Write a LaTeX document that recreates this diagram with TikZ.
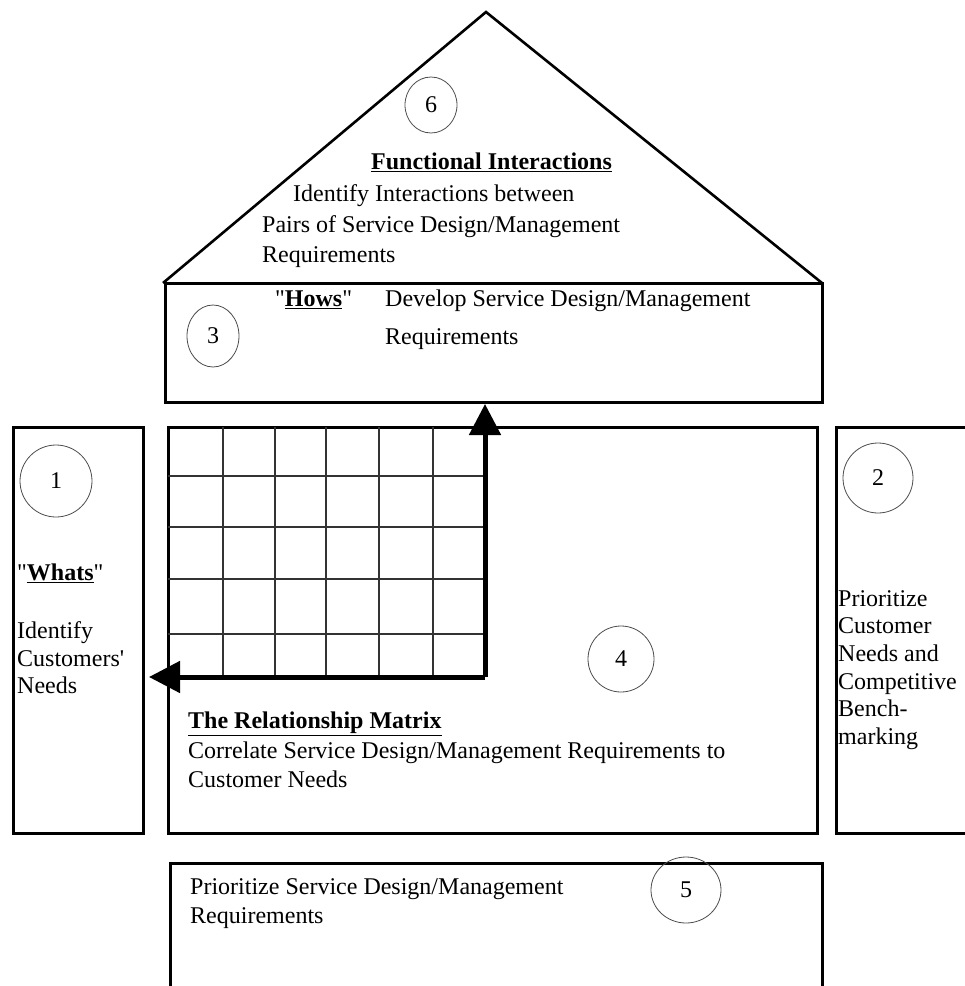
\documentclass[tikz,border=0pt]{standalone}
\usepackage{fontspec}
\setmainfont{Liberation Serif}
% same face without the TeX quote mapping, for straight quote marks
\newfontfamily\plainquote{Liberation Serif}
\usetikzlibrary{arrows.meta,shapes.geometric}
\newcommand{\dq}{{\plainquote"}}
\newcommand{\sq}{{\plainquote'}}
\begin{document}
\begin{tikzpicture}[x=1pt,y=-1pt,
  frame/.style={draw=black,line width=3pt},
  roof/.style={draw=black,line width=2.6pt,line join=miter},
  numring/.style={ellipse,draw=black!70,line width=0.8pt,inner sep=0pt,
    font=\fontsize{24}{28}\selectfont},
  txt/.style={anchor=west,inner sep=0pt,text height=16pt,text depth=5pt,
    font=\fontsize{24}{28}\selectfont},
  boldtxt/.style={txt,font=\fontsize{24}{28}\selectfont\bfseries},
  gridline/.style={draw=black!80,line width=1.3pt},
  bigarrow/.style={line width=5pt,-{Triangle[length=31pt,width=31pt]}}
]
\useasboundingbox (0,0) rectangle (965,986);

% roof: functional interactions
\draw[roof] (163,283) -- (486,12) -- (822,283);
\node[numring,minimum width=52pt,minimum height=56pt] (n6) at (431,105) {6};
\node[boldtxt] (fi) at (371,164) {\underline{Functional Interactions}};
\node[txt] (fi1) at (293,196) {Identify Interactions between};
\node[txt] (fi2) at (262,227) {Pairs of Service Design/Management};
\node[txt] (fi3) at (262,257) {Requirements};

% "Hows" box
\draw[frame] (165,283) rectangle (822,402);
\node[numring,minimum width=52pt,minimum height=62pt] (n3) at (213,336) {3};
\node[txt] (hw) at (275,301) {\dq\textbf{\underline{Hows}}\dq};
\node[txt] (hw1) at (385,301) {Develop Service Design/Management};
\node[txt] (hw2) at (385,339) {Requirements};

% "Whats" column
\draw[frame] (13,427) rectangle (143,833);
\node[numring,minimum width=72pt,minimum height=72pt] (n1) at (56,481) {1};
\node[txt] (wh) at (17,575) {\dq\textbf{\underline{Whats}}\dq};
\node[txt] (wh1) at (17,633) {Identify};
\node[txt] (wh2) at (17,661) {Customers\sq};
\node[txt] (wh3) at (17,688) {Needs};

% relationship matrix
\draw[frame] (168,427) rectangle (817,833);
\foreach \x in {223,275,326,379,433}
  \draw[gridline] (\x,427) -- (\x,677);
\foreach \y in {476,527,579,634}
  \draw[gridline] (168,\y) -- (485,\y);
\coordinate (corner) at (485,677);
\coordinate (uptip) at (485,404);
\coordinate (lefttip) at (149,677);
\draw[bigarrow] (corner) -- (uptip);
\draw[bigarrow] (corner) -- (lefttip);
\node[numring,minimum width=66pt,minimum height=66pt] (n4) at (621,659) {4};
\node[boldtxt] (rm) at (188,723) {\underline{The Relationship Matrix}};
\node[txt] (rm1) at (188,753) {Correlate Service Design/Management Requirements to};
\node[txt] (rm2) at (188,782) {Customer Needs};

% competitive benchmarking column
\draw[frame] (836,427) rectangle (990,833);
\node[numring,minimum width=70pt,minimum height=70pt] (n2) at (878,478) {2};
\node[txt] (cb1) at (838,601) {Prioritize};
\node[txt] (cb2) at (838,628) {Customer};
\node[txt] (cb3) at (838,656) {Needs and};
\node[txt] (cb4) at (838,684) {Competitive};
\node[txt] (cb5) at (838,711) {Bench-};
\node[txt] (cb6) at (838,739) {marking};

% prioritized requirements
\draw[frame] (170,1000) -- (170,863) -- (822,863) -- (822,1000);
\node[numring,minimum width=70pt,minimum height=66pt] (n5) at (686,890) {5};
\node[txt] (pr1) at (190,889) {Prioritize Service Design/Management};
\node[txt] (pr2) at (190,918) {Requirements};
\end{tikzpicture}
\end{document}
